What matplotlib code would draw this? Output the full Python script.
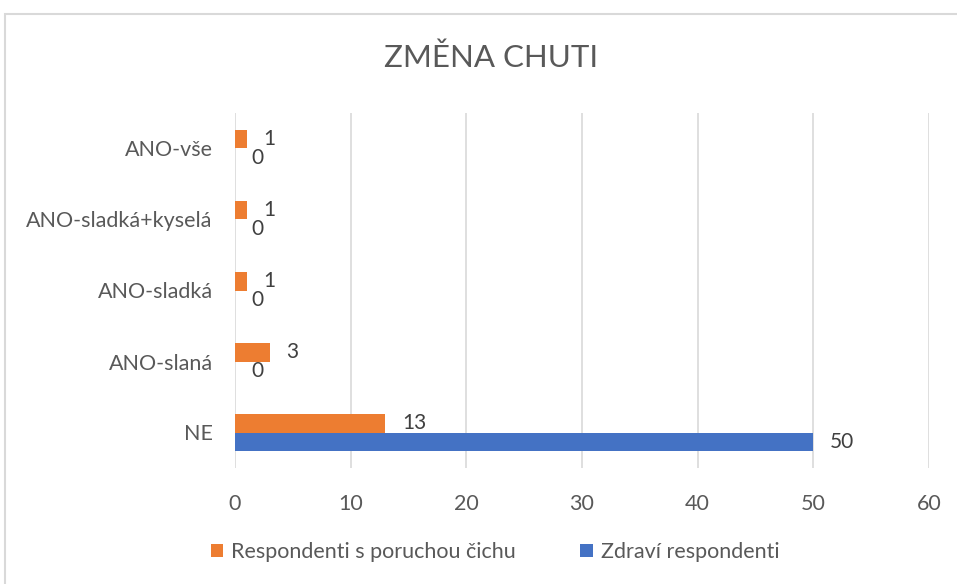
# horizontal grouped bar chart - change of taste
import matplotlib.pyplot as plt
from matplotlib.patches import Rectangle
import numpy as np

plt.rcParams['font.family'] = ['Lato', 'DejaVu Sans']

categories = ['NE', 'ANO-slaná', 'ANO-sladká', 'ANO-sladká+kyselá', 'ANO-vše']
smell_disorder = [13, 3, 1, 1, 1]
healthy = [50, 0, 0, 0, 0]
series_names = ['Respondenti s poruchou čichu', 'Zdraví respondenti']
title = 'ZMĚNA CHUTI'

orange = '#ED7D31'
blue = '#4472C4'
text_gray = '#595959'

fig = plt.figure(figsize=(9.57, 5.84), dpi=100)
ax = fig.add_axes([235 / 957, 116 / 584, 694 / 957, 355 / 584])

y = np.arange(len(categories))
h = 0.26
bars_o = ax.barh(y + h / 2, smell_disorder, height=h, color=orange, label=series_names[0], zorder=3)
bars_b = ax.barh(y - h / 2, healthy, height=h, color=blue, label=series_names[1], zorder=3)

# data labels to the right of each bar
for bars, vals in ((bars_o, smell_disorder), (bars_b, healthy)):
    for b, v in zip(bars, vals):
        ax.annotate(str(v), (b.get_width(), b.get_y() + b.get_height() / 2),
                    xytext=(12, 0), textcoords='offset points',
                    ha='left', va='center', fontsize=15, color='#404040')

ax.set_xlim(0, 60)
ax.set_ylim(-0.5, len(categories) - 0.5)
ax.set_xticks(np.arange(0, 61, 10))
ax.set_yticks(y)
ax.set_yticklabels(categories)
ax.grid(axis='x', color='#d9d9d9', linewidth=1.2, zorder=0)
for s in ax.spines.values():
    s.set_visible(False)
ax.tick_params(axis='both', length=0, labelsize=15.5, colors=text_gray)
ax.tick_params(axis='x', pad=19)
ax.tick_params(axis='y', pad=16)

fig.text(491 / 957, 1 - 58 / 584, title, ha='center', va='center',
         fontsize=22.5, color=text_gray)

handles = [bars_o, bars_b]
fig.legend(handles, series_names, loc='center', bbox_to_anchor=(495 / 957, 1 - 552 / 584),
           ncol=2, frameon=False, fontsize=15.5, labelcolor=text_gray,
           handlelength=0.6, handleheight=0.6, handletextpad=0.35, columnspacing=3.0)

# chart area border
fig.patches.append(Rectangle((5 / 957, -0.1), 1.0, (584 - 14) / 584 + 0.1,
                             transform=fig.transFigure, fill=False,
                             edgecolor='#d9d9d9', linewidth=1.5))

fig.savefig('out.png', dpi=100)
